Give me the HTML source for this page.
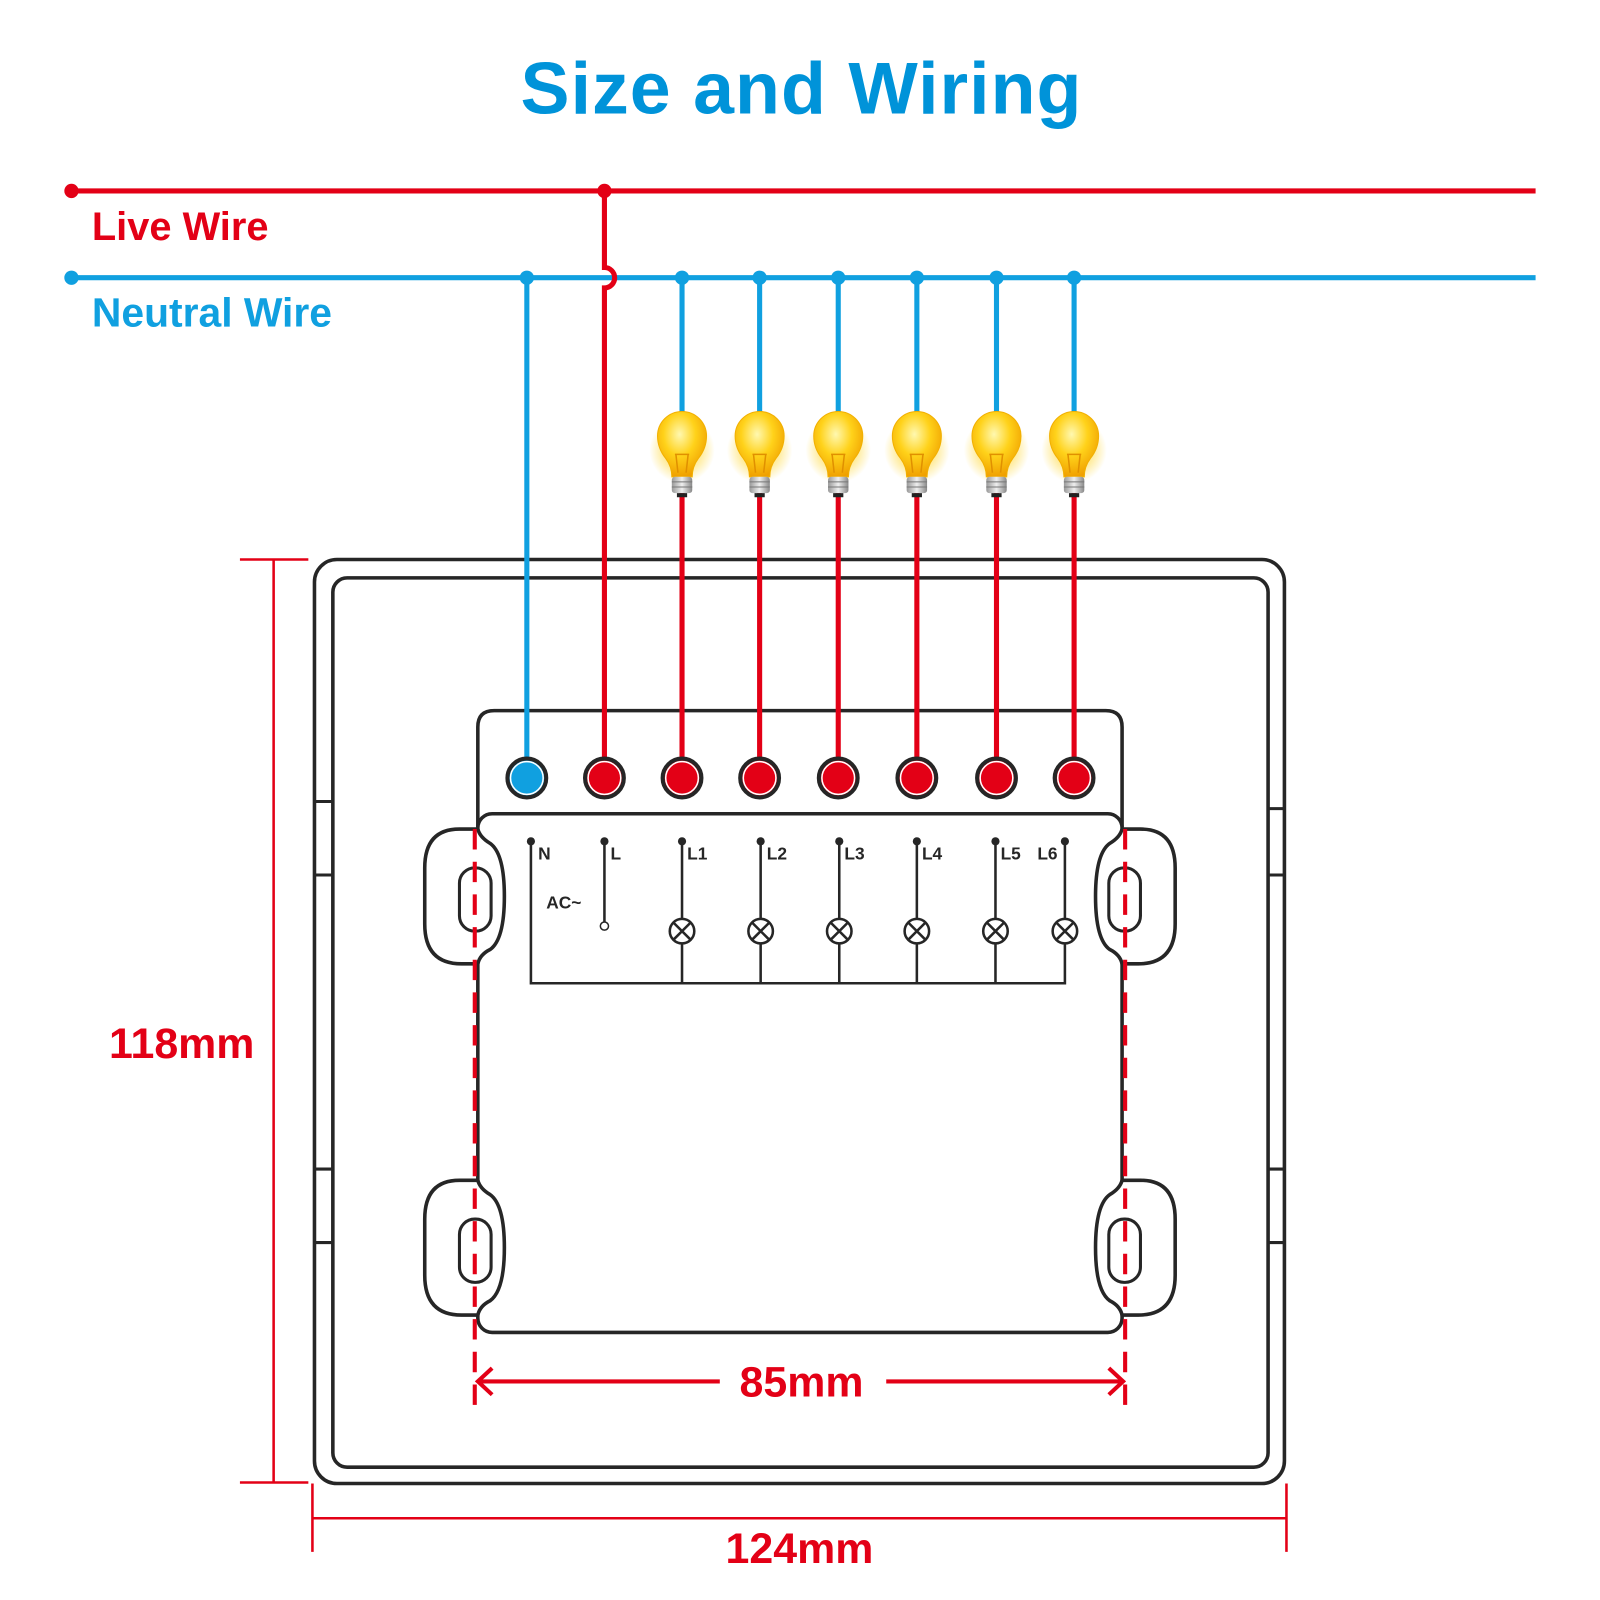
<!DOCTYPE html>
<html><head><style>body{margin:0;background:#fff}svg{display:block}</style></head><body>
<svg width="1600" height="1600" viewBox="0 0 1600 1600" xmlns="http://www.w3.org/2000/svg" font-family="Liberation Sans, sans-serif">
<defs>
<radialGradient id="bg" cx="0.45" cy="0.35" r="0.65"><stop offset="0" stop-color="#fff8b0"/><stop offset="0.5" stop-color="#ffd21a"/><stop offset="1" stop-color="#f0a000"/></radialGradient>
<radialGradient id="glow" cx="0.5" cy="0.5" r="0.5"><stop offset="0.6" stop-color="#ffe060" stop-opacity="0.6"/><stop offset="1" stop-color="#ffe060" stop-opacity="0"/></radialGradient>
<linearGradient id="base" x1="0" x2="1"><stop offset="0" stop-color="#999"/><stop offset="0.5" stop-color="#eee"/><stop offset="1" stop-color="#888"/></linearGradient>
<g id="bulb">
<circle cx="0" cy="-4" r="32" fill="url(#glow)"/>
<path d="M-10,22 Q-10,12 -16,4 Q-24,-6 -24,-18 A24,24 0 1 1 24,-18 Q24,-6 16,4 Q10,12 10,22 Z" fill="url(#bg)" stroke="#f2b000" stroke-width="1"/>
<path d="M-6,0 L-4,18 M6,0 L4,18 M-7,0 L7,0" stroke="#e09000" stroke-width="1.5" fill="none"/>
<rect x="-10" y="22" width="20" height="16" rx="3" fill="url(#base)"/>
<path d="M-10,27 H10 M-10,32 H10" stroke="#777" stroke-width="1"/>
<rect x="-5" y="38" width="10" height="4" fill="#222"/>
</g>
<g id="ear" fill="#fff" stroke="#262626" stroke-width="3.5">
<path d="M468,812 Q464,812 450,812 Q416,812 416,850 L416,905 Q416,944 452,944 L468,944 Q470,935 480,930 Q494,920 494,878 Q494,836 480,826 Q470,820 468,812 Z"/>
<rect x="450" y="850" width="31" height="62" rx="15" fill="none" stroke-width="3"/>
</g>
</defs>
<g transform="scale(1.021)">
<text x="785" y="111" text-anchor="middle" font-size="72" font-weight="bold" letter-spacing="1" fill="#0093d9">Size and Wiring</text>

<line x1="70" y1="187" x2="1504" y2="187" stroke="#e30016" stroke-width="5"/>
<line x1="70" y1="272" x2="1504" y2="272" stroke="#10a0e0" stroke-width="5"/>
<circle cx="70" cy="187" r="7" fill="#e30016"/>
<circle cx="592" cy="187" r="7" fill="#e30016"/>
<circle cx="70" cy="272" r="7" fill="#10a0e0"/>
<text x="90" y="235" font-size="39" font-weight="bold" fill="#e30016">Live Wire</text>
<text x="90" y="320" font-size="40" font-weight="bold" fill="#10a0e0">Neutral Wire</text>

<rect x="308" y="548" width="950" height="905" rx="22" fill="#fff" stroke="#262626" stroke-width="3.5"/>
<rect x="326" y="566" width="916" height="871" rx="14" fill="none" stroke="#262626" stroke-width="3.5"/>
<path d="M308,785 H326 M308,857 H326 M308,1145 H326 M308,1217 H326 M1242,792 H1258 M1242,857 H1258 M1242,1145 H1258 M1242,1217 H1258" stroke="#262626" stroke-width="3"/>

<path d="M468,810 V712 Q468,696 484,696 H1083 Q1099,696 1099,712 V810" fill="none" stroke="#262626" stroke-width="3.5"/>
<rect x="468" y="797" width="631" height="508" rx="14" fill="#fff" stroke="#262626" stroke-width="3.5"/>
<use href="#ear"/>
<use href="#ear" transform="translate(0,344)"/>
<use href="#ear" transform="translate(1567,0) scale(-1,1)"/>
<use href="#ear" transform="translate(1567,344) scale(-1,1)"/>

<g stroke-width="5" fill="none">
<line x1="516" y1="272" x2="516" y2="762" stroke="#10a0e0"/>
<path d="M592,187 V262 A9,9 0 0 1 592,282 V762" stroke="#e30016"/>
<g stroke="#10a0e0">
<line x1="668" y1="272" x2="668" y2="420"/><line x1="744" y1="272" x2="744" y2="420"/><line x1="821" y1="272" x2="821" y2="420"/><line x1="898" y1="272" x2="898" y2="420"/><line x1="976" y1="272" x2="976" y2="420"/><line x1="1052" y1="272" x2="1052" y2="420"/>
</g>
<g stroke="#e30016">
<line x1="668" y1="480" x2="668" y2="762"/><line x1="744" y1="480" x2="744" y2="762"/><line x1="821" y1="480" x2="821" y2="762"/><line x1="898" y1="480" x2="898" y2="762"/><line x1="976" y1="480" x2="976" y2="762"/><line x1="1052" y1="480" x2="1052" y2="762"/>
</g>
</g>
<g fill="#10a0e0"><circle cx="516" cy="272" r="7"/><circle cx="668" cy="272" r="7"/><circle cx="744" cy="272" r="7"/><circle cx="821" cy="272" r="7"/><circle cx="898" cy="272" r="7"/><circle cx="976" cy="272" r="7"/><circle cx="1052" cy="272" r="7"/></g>
<use href="#bulb" x="668" y="445"/><use href="#bulb" x="744" y="445"/><use href="#bulb" x="821" y="445"/><use href="#bulb" x="898" y="445"/><use href="#bulb" x="976" y="445"/><use href="#bulb" x="1052" y="445"/>

<g stroke="#262626" stroke-width="4">
<circle cx="516" cy="762" r="19" fill="#10a0e0"/>
<circle cx="592" cy="762" r="19" fill="#e30016"/><circle cx="668" cy="762" r="19" fill="#e30016"/><circle cx="744" cy="762" r="19" fill="#e30016"/><circle cx="821" cy="762" r="19" fill="#e30016"/><circle cx="898" cy="762" r="19" fill="#e30016"/><circle cx="976" cy="762" r="19" fill="#e30016"/><circle cx="1052" cy="762" r="19" fill="#e30016"/>
</g>
<g fill="none" stroke="#fff" stroke-width="1.5"><circle cx="592" cy="762" r="16"/><circle cx="668" cy="762" r="16"/><circle cx="744" cy="762" r="16"/><circle cx="821" cy="762" r="16"/><circle cx="898" cy="762" r="16"/><circle cx="976" cy="762" r="16"/><circle cx="1052" cy="762" r="16"/><circle cx="516" cy="762" r="16"/></g>

<g stroke="#262626" stroke-width="2.5" fill="none">
<path d="M520,824 V963 H1043 V824"/>
<line x1="592" y1="824" x2="592" y2="904"/>
<path d="M668,824 V963 M745,824 V963 M822,824 V963 M898,824 V963 M975,824 V963"/>
</g>
<circle cx="592" cy="907" r="4" fill="#fff" stroke="#262626" stroke-width="1.5"/>
<g fill="#262626"><circle cx="520" cy="824" r="4"/><circle cx="592" cy="824" r="4"/><circle cx="668" cy="824" r="4"/><circle cx="745" cy="824" r="4"/><circle cx="822" cy="824" r="4"/><circle cx="898" cy="824" r="4"/><circle cx="975" cy="824" r="4"/><circle cx="1043" cy="824" r="4"/></g>
<g fill="#fff" stroke="#262626" stroke-width="2.5">
<circle cx="668" cy="912" r="12"/><circle cx="745" cy="912" r="12"/><circle cx="822" cy="912" r="12"/><circle cx="898" cy="912" r="12"/><circle cx="975" cy="912" r="12"/><circle cx="1043" cy="912" r="12"/>
</g>
<g stroke="#262626" stroke-width="2.5">
<path d="M660,904 l16,16 M676,904 l-16,16"/><path d="M737,904 l16,16 M753,904 l-16,16"/><path d="M814,904 l16,16 M830,904 l-16,16"/><path d="M890,904 l16,16 M906,904 l-16,16"/><path d="M967,904 l16,16 M983,904 l-16,16"/><path d="M1035,904 l16,16 M1051,904 l-16,16"/>
</g>
<g font-size="17" font-weight="bold" fill="#262626">
<text x="527" y="842">N</text><text x="598" y="842">L</text><text x="673" y="842">L1</text><text x="751" y="842">L2</text><text x="827" y="842">L3</text><text x="903" y="842">L4</text><text x="980" y="842">L5</text><text x="1016" y="842">L6</text>
<text x="535" y="890">AC~</text>
</g>

<g stroke="#e30016" stroke-width="4" stroke-dasharray="20,12">
<line x1="465" y1="812" x2="465" y2="1385"/><line x1="1102" y1="812" x2="1102" y2="1385"/>
</g>
<g stroke="#e30016" stroke-width="4" fill="none">
<line x1="468" y1="1353" x2="705" y2="1353"/><line x1="868" y1="1353" x2="1100" y2="1353"/>
<path d="M482,1340 L468,1353 L482,1366"/><path d="M1086,1340 L1100,1353 L1086,1366"/>
</g>
<text x="785" y="1368" text-anchor="middle" font-size="42" font-weight="bold" fill="#e30016">85mm</text>
<g stroke="#e30016" stroke-width="2.5">
<line x1="235" y1="548" x2="302" y2="548"/><line x1="235" y1="1452" x2="302" y2="1452"/><line x1="268" y1="548" x2="268" y2="1452"/>
<line x1="306" y1="1453" x2="306" y2="1520"/><line x1="1260" y1="1453" x2="1260" y2="1520"/><line x1="306" y1="1487" x2="1260" y2="1487"/>
</g>
<text x="178" y="1036" text-anchor="middle" font-size="42" font-weight="bold" fill="#e30016">118mm</text>
<text x="783" y="1531" text-anchor="middle" font-size="42" font-weight="bold" fill="#e30016">124mm</text>
</g>
</svg>
</body></html>
